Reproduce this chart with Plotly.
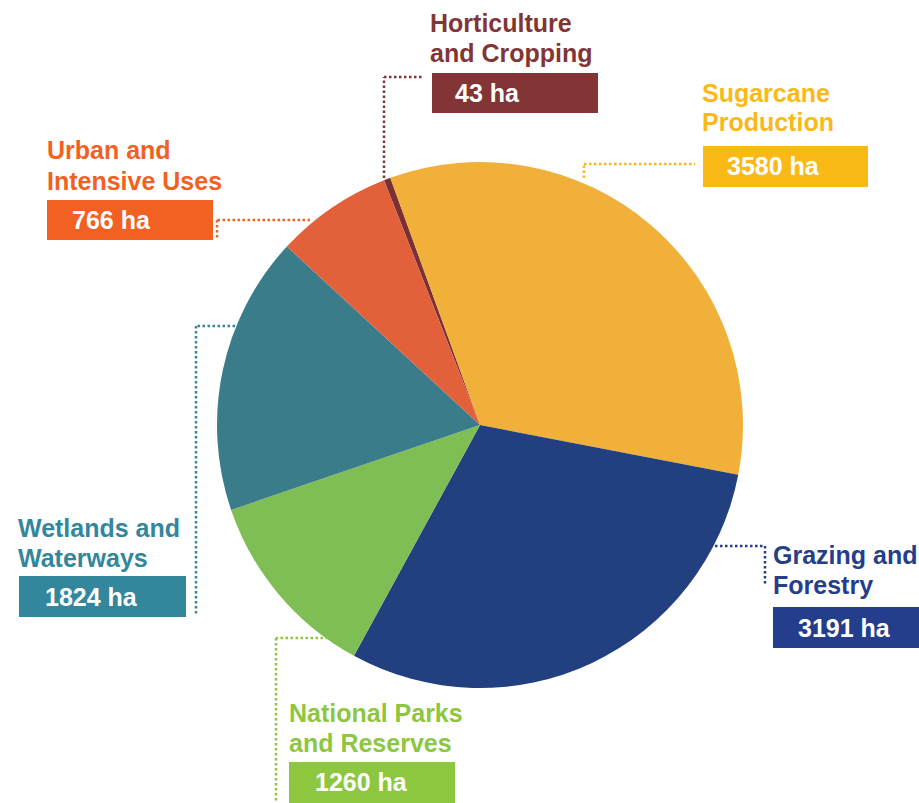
import plotly.graph_objects as go

W, H = 919, 803

categories = ["Horticulture<br>and Cropping", "Sugarcane<br>Production", "Grazing and<br>Forestry",
              "National Parks<br>and Reserves", "Wetlands and<br>Waterways", "Urban and<br>Intensive Uses"]
values = [43, 3580, 3191, 1260, 1824, 766]
unit = "ha"

slice_colors = ["#7b3134", "#f0b03a", "#22407f", "#7fbd55", "#3b7c8a", "#e2603a"]
label_colors = ["#833536", "#fbb918", "#243e8b", "#8dc63f", "#32879d", "#f26122"]

def px(x):
    return x / W

def py(y):
    return 1 - y / H

fig = go.Figure()
fig.add_trace(go.Pie(
    labels=[c.replace("<br>", " ") for c in categories],
    values=values,
    sort=False,
    direction="clockwise",
    rotation=-21.4,
    marker=dict(colors=slice_colors, line=dict(width=0)),
    textinfo="none",
    hoverinfo="label+value",
    showlegend=False,
    domain=dict(x=[px(217), px(743)], y=[py(688), py(162)]),
))

# label layout (pixel positions)
title_x = [429, 701, 772, 288, 17, 46]
title_lines_y = [(23, 53), (93, 122.5), (555, 585), (713, 743), (528, 557.5), (150, 181)]
box_rect = [(432, 73, 598, 113), (703, 146, 868, 187), (773, 607, 925, 648),
            (289, 762, 455, 808), (19, 576, 186, 617), (47, 200, 213, 240)]
value_text_x = [454, 726, 797, 314, 44, 71]
leaders = [
    [(384, 178), (384, 77), (424, 77)],
    [(584, 178), (584, 164), (695, 164)],
    [(715, 546), (765, 546), (765, 585)],
    [(328, 638), (276, 638), (276, 803)],
    [(235, 326), (196, 326), (196, 615)],
    [(310, 220), (217, 220), (217, 240)],
]

FONT = "Arial, Liberation Sans, sans-serif"
shapes = []
annotations = []
for i, cat in enumerate(categories):
    col = label_colors[i]
    for line, ly in zip(cat.split("<br>"), title_lines_y[i]):
        annotations.append(dict(
            x=px(title_x[i]), y=py(ly), xref="paper", yref="paper", xanchor="left", yanchor="middle",
            text="<b>" + line + "</b>", showarrow=False, align="left",
            font=dict(family=FONT, size=25, color=col), borderpad=0,
        ))
    x0, y0, x1, y1 = box_rect[i]
    shapes.append(dict(type="rect", xref="paper", yref="paper",
                       x0=px(x0), x1=px(x1), y0=py(y1), y1=py(y0),
                       fillcolor=col, line=dict(width=0), layer="above"))
    annotations.append(dict(
        x=px(value_text_x[i]), y=py((y0 + min(y1, 803)) / 2 if i != 3 else 782), xref="paper", yref="paper",
        xanchor="left", yanchor="middle",
        text=f"<b>{values[i]} {unit}</b>", showarrow=False,
        font=dict(family=FONT, size=25, color="white"), borderpad=0,
    ))
    pts = leaders[i]
    for (ax, ay), (bx, by) in zip(pts[:-1], pts[1:]):
        shapes.append(dict(type="line", xref="paper", yref="paper",
                           x0=px(ax), y0=py(ay), x1=px(bx), y1=py(by),
                           line=dict(color=col, width=2.5, dash="2.5px,2.5px"), layer="above"))

fig.update_layout(
    width=W, height=H,
    margin=dict(l=0, r=0, t=0, b=0),
    paper_bgcolor="white", plot_bgcolor="white",
    shapes=shapes, annotations=annotations,
)

fig.write_html("out.html")
